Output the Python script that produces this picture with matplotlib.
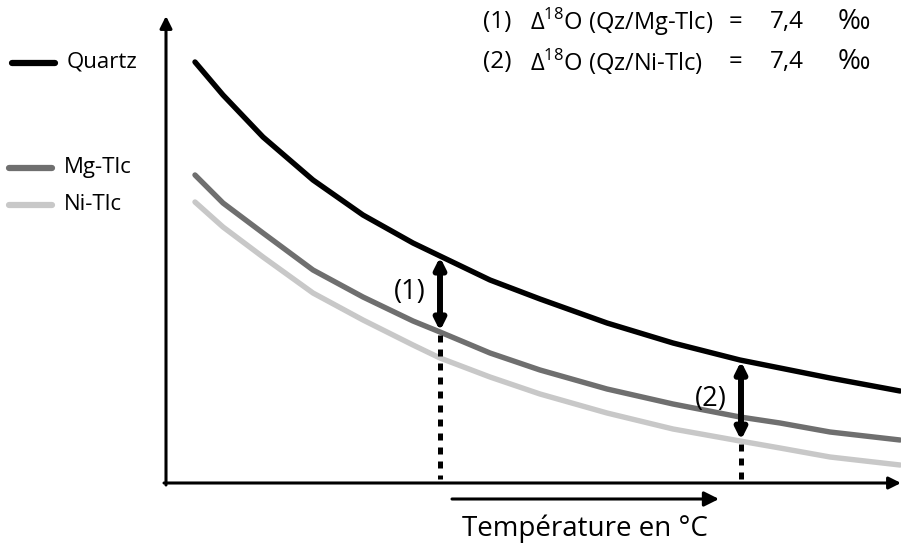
import numpy as np
import matplotlib
matplotlib.use('Agg')
import matplotlib.pyplot as plt

plt.rcParams['font.family'] = ['Open Sans', 'DejaVu Sans']
plt.rcParams['mathtext.fontset'] = 'custom'
plt.rcParams['mathtext.rm'] = 'Open Sans'

# curves (arbitrary units: x = temperature, y = delta18O, y grows downward)
temp = [195, 223, 263, 313, 363, 413, 440, 490, 540, 607, 673, 740, 780, 830, 900]
quartz = [62, 95, 137, 180, 215, 243, 256, 280, 299, 323, 343, 360, 368, 378, 391]
mg_tlc = [175, 203, 233, 270, 297, 321, 332, 353, 370, 389, 404, 417, 423, 432, 440]
ni_tlc = [202, 227, 257, 293, 320, 345, 358, 377, 394, 413, 429, 441, 448, 457, 465]

names = ['Quartz', 'Mg-Tlc', 'Ni-Tlc']
colors = ['#000000', '#6f6f6f', '#c8c8c8']
legend_y = [63, 168, 205]

# points where the fractionation is read
t_marks = [440, 741]
mark_labels = ['(1)', '(2)']
annot_num = ['(1)', '(2)']
annot_pair = ['Δ$^{18}$O (Qz/Mg-Tlc)', 'Δ$^{18}$O (Qz/Ni-Tlc)']
annot_val = ['7,4', '7,4']

H = 545
def up(v):
   return H - np.asarray(v, dtype=float)

fig = plt.figure(figsize=(9.01, 5.45), dpi=100)
ax = fig.add_axes([0, 0, 1, 1])
ax.set_xlim(0, 901)
ax.set_ylim(0, H)
ax.axis('off')

# axes with arrows
ax.annotate('', xy=(166, up(16)), xytext=(166, up(485)),
            arrowprops=dict(arrowstyle='-|>', lw=2.2, color='k', mutation_scale=18, shrinkA=0, shrinkB=0))
ax.annotate('', xy=(901, up(483)), xytext=(164, up(483)),
            arrowprops=dict(arrowstyle='-|>', lw=2.2, color='k', mutation_scale=18, shrinkA=0, shrinkB=0))

series = [quartz, mg_tlc, ni_tlc]
for s, c in zip(series[::-1], colors[::-1]):
   ax.plot(temp, up(s), color=c, lw=3.9, solid_capstyle='round', solid_joinstyle='round', zorder=3)

# legend drawn by hand on the left
for n, c, y in zip(names, colors, legend_y):
   x0 = 12 if n == 'Quartz' else 9
   ax.plot([x0, x0 + 43], [up(y), up(y)], color=c, lw=4.5, solid_capstyle='round')
   ax.text(x0 + 55, up(y) + 1, n, fontsize=16, va='center', ha='left')

# double arrows and dotted drop lines
ends = [(np.interp(t_marks[0], temp, quartz), np.interp(t_marks[0], temp, mg_tlc)),
        (np.interp(t_marks[1], temp, quartz), np.interp(t_marks[1], temp, ni_tlc))]
for t, (a, b), lab in zip(t_marks, ends, mark_labels):
   ax.annotate('', xy=(t, up(a + 1)), xytext=(t, up(b - 1)),
               arrowprops=dict(arrowstyle='<|-|>', lw=4.3, color='k', mutation_scale=16, shrinkA=0, shrinkB=0),
               zorder=5)
   ax.plot([t, t], [up(b + 3), up(479)], color='k', lw=3.6, linestyle=(0, (1.4, 1.4)),
           dash_capstyle='butt', zorder=4)
   ax.text(t - 14, up((a + b) / 2 - 2), lab, fontsize=19.5, ha='right', va='center')

# temperature arrow
ax.annotate('', xy=(719, up(499)), xytext=(452, up(499)),
            arrowprops=dict(arrowstyle='-|>', lw=2.2, color='k', mutation_scale=22, shrinkA=0, shrinkB=0))
ax.text(585, up(529), 'Température en °C', fontsize=20, ha='center', va='center')

for i in range(2):
   y = up(22 + 40 * i)
   ax.text(483, y, annot_num[i], fontsize=17.5, ha='left', va='center')
   ax.text(530, y, annot_pair[i], fontsize=17, ha='left', va='center')
   ax.text(729, y, '=', fontsize=17, ha='left', va='center')
   ax.text(770, y, annot_val[i], fontsize=17.5, ha='left', va='center')
   ax.text(838, y, '‰', fontsize=20, ha='left', va='center')

fig.savefig('out.png', dpi=100)
